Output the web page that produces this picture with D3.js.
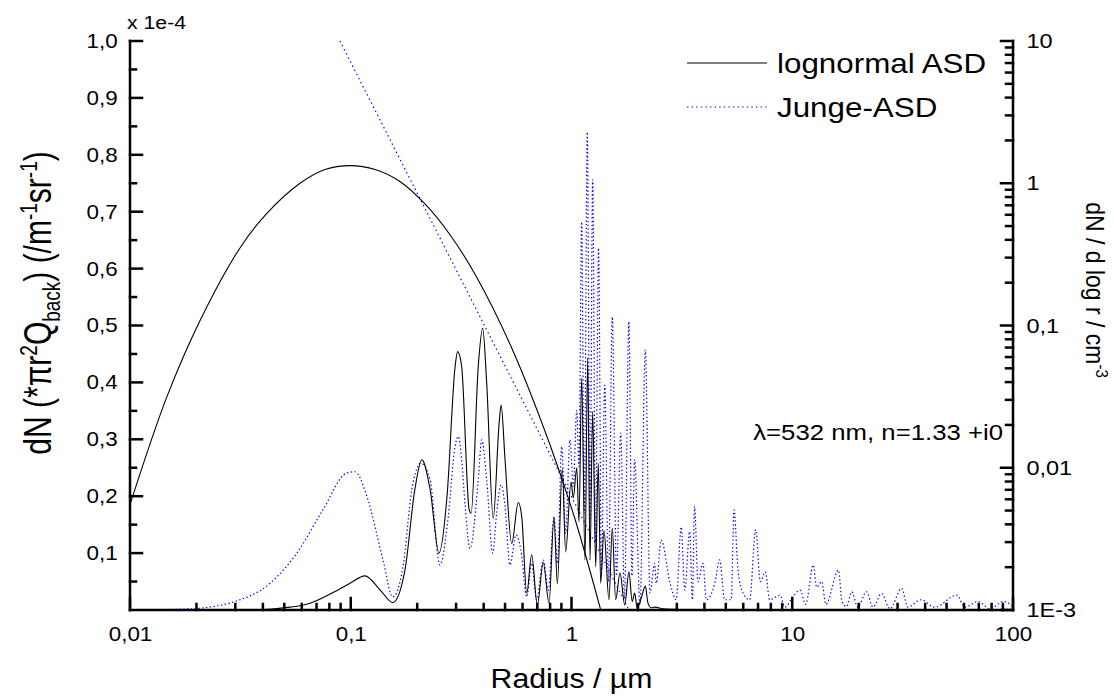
<!DOCTYPE html>
<html>
<head>
<meta charset="utf-8">
<script src="https://cdn.jsdelivr.net/npm/d3@7"></script>
<style>
  body { margin: 0; background: #fff; }
  text { font-family: Arial, "Liberation Sans", sans-serif; fill: #000; }
</style>
</head>
<body>
<div id="chart"></div>
<script>
// axis ticks
const radiusTicks = [0.01, 0.1, 1, 10, 100];
const radiusLabels = ["0,01", "0,1", "1", "10", "100"];
const leftTicks = [0.1, 0.2, 0.3, 0.4, 0.5, 0.6, 0.7, 0.8, 0.9, 1.0];
const leftLabels = ["0,1", "0,2", "0,3", "0,4", "0,5", "0,6", "0,7", "0,8", "0,9", "1,0"];
const rightTicks = [0.001, 0.01, 0.1, 1, 10];
const rightLabels = ["1E-3", "0,01", "0,1", "1", "10"];

// size distributions, right axis [radius µm, dN/dlogr cm^-3]
const lognormalASD = [
  [0.01, 0.0055], [0.0147, 0.0316], [0.0208, 0.109], [0.0315, 0.351], [0.0416, 0.612],
  [0.0589, 1.0], [0.0764, 1.25], [0.0993, 1.33], [0.129, 1.25], [0.167, 1.03],
  [0.217, 0.715], [0.282, 0.433], [0.365, 0.230], [0.536, 0.0695], [0.799, 0.0145],
  [1.037, 0.00436], [1.356, 0.001]
];
const jungeASD = [[0.0893, 10], [0.282, 0.298], [0.916, 0.0082], [1.82, 0.001]];

// backscatter, left axis [radius µm, value x 1e-4]
const backLognormal = [
  [0.01, 0], [0.035, 0], [0.0531, 0.005], [0.0654, 0.012], [0.0806, 0.028], [0.0993, 0.047],
  [0.116, 0.060], [0.136, 0.035], [0.155, 0.013], [0.176, 0.070], [0.195, 0.211], [0.210, 0.264],
  [0.229, 0.211], [0.251, 0.100], [0.273, 0.2], [0.297, 0.428], [0.305, 0.454], [0.318, 0.428],
  [0.344, 0.176], [0.351, 0.170], [0.378, 0.428], [0.396, 0.495], [0.413, 0.398], [0.442, 0.161],
  [0.470, 0.328], [0.480, 0.360], [0.500, 0.264], [0.536, 0.117], [0.574, 0.189], [0.595, 0.164],
  [0.627, 0.029], [0.660, 0.097], [0.700, 0.009], [0.745, 0.083], [0.791, 0.012], [0.833, 0.163],
  [0.863, 0.046], [0.908, 0.248], [0.941, 0.102], [0.995, 0.225], [1.019, 0.197], [1.056, 0.250],
  [1.081, 0.155], [1.112, 0.408], [1.151, 0.088], [1.184, 0.443], [1.213, 0.088], [1.247, 0.349],
  [1.287, 0.076], [1.322, 0.258], [1.356, 0.047], [1.403, 0.140], [1.478, 0.018], [1.530, 0.144],
  [1.585, 0.018], [1.659, 0.065], [1.742, 0.009], [1.82, 0.067], [1.884, 0.015], [1.932, 0.030],
  [1.985, 0.003], [2.07, 0.021], [2.16, 0.042], [2.22, 0.012], [2.30, 0.004], [2.39, 0.005],
  [2.60, 0.002], [3.0, 0.001], [5, 0], [100, 0]
];
const backJunge = [
  [0.01, 0], [0.0187, 0.002], [0.0293, 0.014], [0.0431, 0.047], [0.057, 0.100], [0.0748, 0.176],
  [0.0961, 0.241], [0.1045, 0.243], [0.1185, 0.199], [0.140, 0.088], [0.155, 0.023], [0.1725, 0.076],
  [0.189, 0.211], [0.208, 0.258], [0.229, 0.228], [0.2535, 0.079], [0.2765, 0.164], [0.2966, 0.287],
  [0.307, 0.305], [0.318, 0.264], [0.330, 0.182], [0.347, 0.108], [0.378, 0.228], [0.392, 0.299],
  [0.413, 0.228], [0.440, 0.100], [0.458, 0.170], [0.480, 0.220], [0.500, 0.182], [0.526, 0.079],
  [0.561, 0.132], [0.590, 0.105], [0.627, 0.023], [0.660, 0.082], [0.695, 0.018], [0.745, 0.088],
  [0.785, 0.035], [0.833, 0.164], [0.863, 0.082], [0.903, 0.287], [0.941, 0.135], [0.984, 0.299],
  [1.019, 0.217], [1.056, 0.351], [1.081, 0.252], [1.112, 0.682], [1.143, 0.170], [1.179, 0.84],
  [1.213, 0.158], [1.247, 0.756], [1.285, 0.12], [1.326, 0.636], [1.367, 0.07], [1.414, 0.395],
  [1.471, 0.05], [1.530, 0.515], [1.599, 0.06], [1.671, 0.311], [1.738, 0.02], [1.82, 0.507],
  [1.879, 0.06], [1.932, 0.264], [2.043, 0.01], [2.16, 0.457], [2.268, 0.03], [2.38, 0.082],
  [2.42, 0.047], [2.55, 0.123], [2.786, 0.05], [2.98, 0.018], [3.14, 0.146], [3.26, 0.035],
  [3.43, 0.138], [3.53, 0.018], [3.61, 0.182], [3.74, 0.05], [3.94, 0.082], [4.08, 0.018],
  [4.46, 0.047], [4.69, 0.088], [4.94, 0.018], [5.29, 0.018], [5.45, 0.176], [5.68, 0.07],
  [5.98, 0.03], [6.41, 0.018], [6.83, 0.141], [7.17, 0.05], [7.55, 0.067], [7.90, 0.018],
  [8.80, 0.026], [9.27, 0.005], [9.94, 0.02], [10.84, 0.035], [11.5, 0.01], [12.45, 0.079],
  [12.9, 0.04], [13.6, 0.05], [14.2, 0.01], [16.2, 0.07], [16.8, 0.015], [17.6, 0.006],
  [18.6, 0.032], [19.8, 0.005], [21.7, 0.032], [23.2, 0.005], [25.4, 0.029], [27.7, 0.002],
  [31.3, 0.038], [33.4, 0.005], [38.2, 0.018], [44.3, 0.005], [55.6, 0.026], [60.6, 0.005],
  [69.6, 0.015], [78.7, 0.002], [90.4, 0.015], [100, 0.006]
];

const width = 1114, height = 697;
const margin = { top: 41, right: 101, bottom: 87, left: 130 };
const iw = width - margin.left - margin.right, ih = height - margin.top - margin.bottom;
const stretch = 1.12; // the source picture is a bit wider than tall

const svg = d3.select("#chart").append("svg")
  .attr("width", width).attr("height", height);
svg.append("defs").append("clipPath").attr("id", "clip")
  .append("rect").attr("x", 0).attr("y", -1).attr("width", iw).attr("height", ih + 1);
const g = svg.append("g").attr("transform", `translate(${margin.left},${margin.top})`);

const x = d3.scaleLog().domain([0.01, 100]).range([0, iw]);
const yL = d3.scaleLinear().domain([0, 1.0]).range([ih, 0]);
const yR = d3.scaleLog().domain([0.001, 10]).range([ih, 0]);

// minor tick values
const decadesMinor = (lo, hi) => {
  const out = [];
  for (let e = lo; e < hi; e++) for (let k = 2; k <= 9; k++) out.push(k * Math.pow(10, e));
  return out;
};
const leftMinor = d3.range(0.05, 1.0, 0.1);

// curves under the axes
const plot = g.append("g").attr("clip-path", "url(#clip)");
const lineL = d3.line().x(d => x(d[0])).y(d => yL(d[1])).curve(d3.curveMonotoneX);
const lineR = d3.line().x(d => x(d[0])).y(d => yR(d[1])).curve(d3.curveCatmullRom.alpha(0.5));
const lineRStraight = d3.line().x(d => x(d[0])).y(d => yR(d[1]));

plot.append("path").datum(backJunge).attr("d", lineL)
  .attr("fill", "none").attr("stroke", "#0000ff").attr("stroke-width", 1.2).attr("stroke-dasharray", "1.4,2.4");
plot.append("path").datum(jungeASD).attr("d", lineRStraight)
  .attr("fill", "none").attr("stroke", "#0000ff").attr("stroke-width", 1.2).attr("stroke-dasharray", "1.4,3.2");
plot.append("path").datum(backLognormal).attr("d", lineL)
  .attr("fill", "none").attr("stroke", "#000").attr("stroke-width", 1.1);
plot.append("path").datum(lognormalASD).attr("d", lineR)
  .attr("fill", "none").attr("stroke", "#000").attr("stroke-width", 1.1);

// axes: library draws labels, frame lines and inward tick marks drawn from the same scales
function styleAxis(sel, size) {
  sel.select(".domain").remove();
  sel.selectAll(".tick line").remove();
  sel.selectAll(".tick text")
    .attr("font-size", size || 20)
    .attr("font-family", "Arial, 'Liberation Sans', sans-serif")
    .attr("fill", "#000")
    .attr("transform", `scale(${stretch},1)`);
}
g.append("g").attr("transform", `translate(0,${ih})`)
  .call(d3.axisBottom(x).tickValues(radiusTicks).tickSize(0).tickPadding(17)
    .tickFormat((d, i) => radiusLabels[i]))
  .call(styleAxis);
g.append("g")
  .call(d3.axisLeft(yL).tickValues(leftTicks).tickSize(0).tickPadding(11)
    .tickFormat((d, i) => leftLabels[i]))
  .call(styleAxis);
g.append("g").attr("transform", `translate(${iw},0)`)
  .call(d3.axisRight(yR).tickValues(rightTicks).tickSize(0).tickPadding(12)
    .tickFormat((d, i) => rightLabels[i]))
  .call(styleAxis, 21);

const tickLayer = g.append("g");
function mark(x1, y1, x2, y2) {
  tickLayer.append("line")
    .attr("x1", x1).attr("y1", y1).attr("x2", x2).attr("y2", y2)
    .attr("stroke", "#000").attr("stroke-width", 2.5).attr("stroke-linecap", "square");
}
// frame: bottom, left, right
mark(0, ih, iw, ih);
mark(0, 0, 0, ih);
mark(iw, 0, iw, ih);
decadesMinor(-2, 2).forEach(d => mark(x(d), ih, x(d), ih - 6));
radiusTicks.forEach(d => mark(x(d), ih, x(d), ih - 12));
leftMinor.forEach(d => mark(0, yL(d), 6, yL(d)));
leftTicks.forEach(d => mark(0, yL(d), 12, yL(d)));
decadesMinor(-3, 1).forEach(d => mark(iw, yR(d), iw - 7, yR(d)));
rightTicks.forEach(d => mark(iw, yR(d), iw - 12, yR(d)));

// helper for stretched free text
function label(px, py, size, txt, anchor) {
  return svg.append("text")
    .attr("transform", `translate(${px},${py}) scale(${stretch},1)`)
    .attr("font-size", size).attr("text-anchor", anchor || "start").text(txt);
}

// legend
const legend = [
  { label: "lognormal ASD", color: "#000", dash: null, y: 63 },
  { label: "Junge-ASD", color: "#0000ff", dash: "1.4,3.2", y: 107 }
];
legend.forEach(l => {
  svg.append("line").attr("x1", 687).attr("x2", 767).attr("y1", l.y).attr("y2", l.y)
    .attr("stroke", l.color).attr("stroke-width", 1.1).attr("stroke-dasharray", l.dash);
  label(777, l.y + 10, 28, l.label);
});

// multiplier and annotation
label(127, 29, 19, "x 1e-4");
label(1003, 440, 23, "λ=532 nm, n=1.33 +i0", "end");

// axis titles
label(margin.left + iw / 2, 688, 27, "Radius / µm", "middle");

const yTitle = svg.append("text").attr("text-anchor", "middle")
  .attr("transform", "translate(51,303) rotate(-90) scale(1,1.3)").attr("font-size", 30);
yTitle.append("tspan").text("dN (*πr");
yTitle.append("tspan").attr("font-size", 19).attr("dy", -11).text("2");
yTitle.append("tspan").attr("dy", 11).text("Q");
yTitle.append("tspan").attr("font-size", 19).attr("dy", 7).text("back");
yTitle.append("tspan").attr("dy", -7).text(") (/m");
yTitle.append("tspan").attr("font-size", 19).attr("dy", -11).text("-1");
yTitle.append("tspan").attr("dy", 11).text("sr");
yTitle.append("tspan").attr("font-size", 19).attr("dy", -11).text("-1");
yTitle.append("tspan").attr("dy", 11).text(")");

const rTitle = svg.append("text").attr("text-anchor", "middle")
  .attr("transform", `translate(1086,290) rotate(90) scale(1,${stretch})`).attr("font-size", 23);
rTitle.append("tspan").text("dN / d log r / cm");
rTitle.append("tspan").attr("font-size", 15).attr("dy", -9).text("-3");
</script>
</body>
</html>
